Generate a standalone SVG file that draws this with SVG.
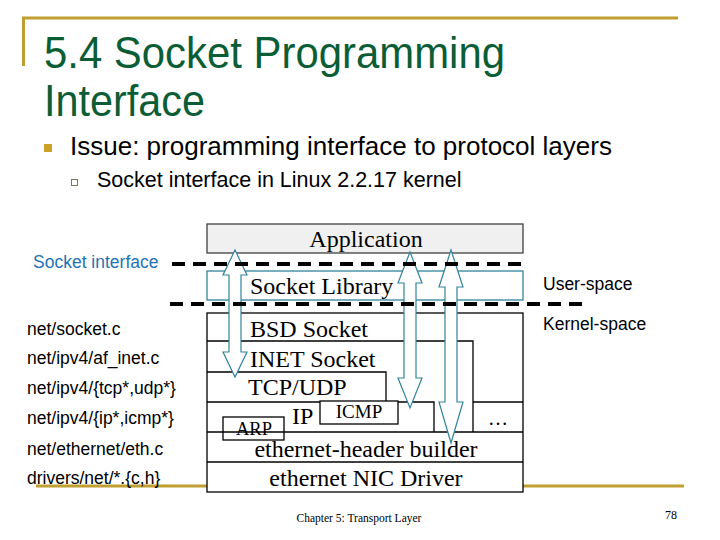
<svg xmlns="http://www.w3.org/2000/svg" width="720" height="540" viewBox="0 0 720 540">
<style>
.title{font-family:"Liberation Sans",Arial,sans-serif;font-size:45px;fill:#0B5D35}
.sans{font-family:"Liberation Sans",Arial,sans-serif;fill:#000}
.serif{font-family:"Liberation Serif","Times New Roman",serif;fill:#000}
.box{fill:none;stroke:#000;stroke-width:1.3}
.gold{stroke:#BF9F2F;stroke-width:3;fill:none}
.dash{stroke:#000;stroke-width:4;stroke-dasharray:13 8;fill:none}
.arrow{fill:#fff;stroke:#31849B;stroke-width:1.2}
</style>
<rect width="720" height="540" fill="#fff"/>
<!-- decorations -->
<path class="gold" d="M22,18 H678 M23.5,18 V66"/>
<path class="gold" d="M36,486 H684"/>
<text class="title" x="44" y="68" textLength="461" lengthAdjust="spacingAndGlyphs">5.4 Socket Programming</text>
<text class="title" x="44" y="116" textLength="161" lengthAdjust="spacingAndGlyphs">Interface</text>
<rect x="44" y="144" width="8" height="8" fill="#C9A227"/>
<text class="sans" x="70" y="155" font-size="26">Issue: programming interface to protocol layers</text>
<rect x="71.5" y="179.5" width="6" height="6" fill="none" stroke="#7a7a4a" stroke-width="1"/>
<text class="sans" x="97" y="187" font-size="21.5">Socket interface in Linux 2.2.17 kernel</text>

<!-- left labels -->
<text class="sans" x="33" y="268" font-size="17.5" style="fill:#1F73B4">Socket interface</text>
<g class="sans" font-size="17.5">
<text x="27" y="335">net/socket.c</text>
<text x="27" y="364">net/ipv4/af_inet.c</text>
<text x="27" y="394">net/ipv4/{tcp*,udp*}</text>
<text x="27" y="424">net/ipv4/{ip*,icmp*}</text>
<text x="27" y="455">net/ethernet/eth.c</text>
<text x="27" y="484">drivers/net/*.{c,h}</text>
<text x="543" y="290">User-space</text>
<text x="543" y="330">Kernel-space</text>
</g>

<!-- nodes -->
<g id="application">
<rect x="207" y="224" width="316" height="29" fill="#F0F0F0" stroke="#404040" stroke-width="1.3"/>
<text class="serif" x="366" y="247" font-size="24" text-anchor="middle">Application</text>
</g>
<g id="socket-library">
<rect x="207" y="271" width="316" height="29" fill="none" stroke="#31849B" stroke-width="1.3"/>
<text class="serif" x="250" y="294" font-size="24">Socket Library</text>
</g>
<g id="kernel">
<rect x="207" y="313" width="316" height="179" fill="#fff" stroke="#000" stroke-width="1.3"/>
</g>
<g id="bsd-socket">
<text class="serif" x="250" y="337" font-size="24">BSD Socket</text>
</g>
<g id="inet-socket">
<path class="box" d="M207,341 H473 V432"/>
<text class="serif" x="250" y="367" font-size="24">INET Socket</text>
</g>
<g id="tcp-udp">
<path class="box" d="M207,372 H386 V402"/>
<text class="serif" x="248" y="395" font-size="24">TCP/UDP</text>
</g>
<g id="ip">
<path class="box" d="M207,402 H434 V432"/>
<text class="serif" x="292" y="424" font-size="24">IP</text>
</g>
<g id="icmp">
<rect x="320" y="401" width="78" height="23" fill="#fff" stroke="#000" stroke-width="1.3"/>
<text class="serif" x="359" y="418" font-size="19" text-anchor="middle">ICMP</text>
</g>
<g id="arp">
<rect x="223" y="417" width="61" height="23" fill="#fff" stroke="#000" stroke-width="1.3"/>
<text class="serif" x="254" y="435" font-size="18.5" text-anchor="middle">ARP</text>
</g>
<g id="other">
<path class="box" d="M473,402 H523"/>
<text class="serif" x="498" y="425" font-size="20" text-anchor="middle">…</text>
</g>
<g id="eth-header">
<path class="box" d="M207,432 H523"/>
<text class="serif" x="366" y="457" font-size="24" text-anchor="middle">ethernet-header builder</text>
</g>
<g id="nic-driver">
<path class="box" d="M207,462 H523"/>
<text class="serif" x="366" y="486" font-size="24" text-anchor="middle">ethernet NIC Driver</text>
</g>

<!-- connectors -->
<g id="connectors">
<path class="arrow" d="M235,250 L247,275 L241,275 L241,352 L247,352 L235,377 L223,352 L229,352 L229,275 L223,275 Z"/>
<path class="arrow" d="M410,252 L422,283 L416,283 L416,378 L422,378 L410,408 L398,378 L404,378 L404,283 L398,283 Z"/>
<path class="arrow" d="M451,250 L463,287 L457,287 L457,402 L463,402 L451,443 L439,402 L445,402 L445,287 L439,287 Z"/>
</g>
<g id="boundaries">
<path class="dash" d="M172,264 H523"/>
<path class="dash" d="M170,304 H583"/>
</g>

<!-- footer -->
<text class="serif" x="359" y="522" font-size="11.5" text-anchor="middle">Chapter 5: Transport Layer</text>
<text class="serif" x="665" y="519" font-size="12">78</text>
</svg>
